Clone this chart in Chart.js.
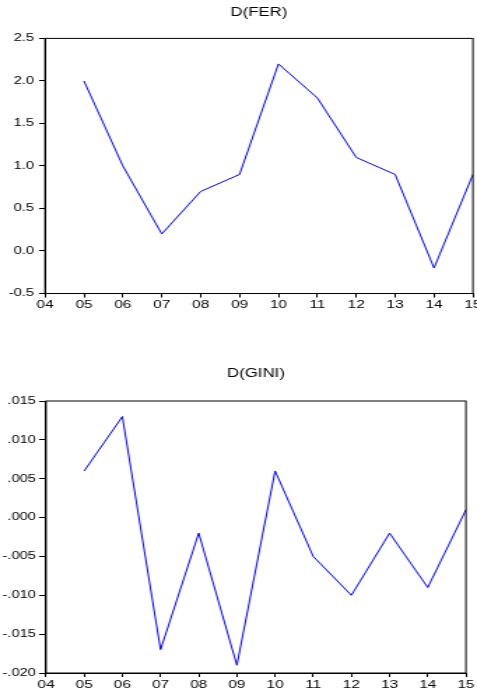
<!DOCTYPE html>
<html>
<head>
<meta charset="utf-8">
<script src="https://cdn.jsdelivr.net/npm/chart.js@4/dist/chart.umd.min.js"></script>
<style>
  html, body { margin: 0; padding: 0; background: #fff; overflow: hidden; }
  /* the original picture is stretched sideways, so each chart is drawn narrow and scaled in x */
  .box { position: absolute; left: 0; width: 341px; transform: scaleX(1.3988); transform-origin: 0 0; }
  #top { top: 0; height: 320px; }
  #bottom { top: 360px; height: 336px; }
</style>
</head>
<body>
<div class="box" id="top"><canvas id="chart-fer"></canvas></div>
<div class="box" id="bottom"><canvas id="chart-gini"></canvas></div>
<script>
// years shown on the x axis (04 has no value because of differencing)
const years = ['04', '05', '06', '07', '08', '09', '10', '11', '12', '13', '14', '15'];
const dFer = [null, 2.0, 1.0, 0.2, 0.7, 0.9, 2.2, 1.8, 1.1, 0.9, -0.2, 0.9];
const dGini = [null, 0.006, 0.013, -0.017, -0.002, -0.019, 0.006, -0.005, -0.010, -0.002, -0.009, 0.001];

Chart.defaults.font.family = 'Arial, "Liberation Sans", sans-serif';
Chart.defaults.color = '#000';

// draws the full box around the plot area
const moldura = {
  id: 'moldura',
  afterDraw(chart) {
    const { ctx, chartArea: a } = chart;
    ctx.save();
    ctx.strokeStyle = '#000';
    ctx.lineWidth = 1;
    ctx.strokeRect(a.left, a.top, a.right - a.left, a.bottom - a.top);
    ctx.restore();
  }
};

function criarGrafico(canvas, titulo, valores, yMin, yMax, passo, formato, opts) {
  return new Chart(canvas, {
    type: 'line',
    data: {
      labels: years,
      datasets: [{
        data: valores,
        borderColor: '#0000ff',
        borderWidth: 1,
        pointRadius: 0,
        tension: 0,
        fill: false
      }]
    },
    options: {
      responsive: true,
      maintainAspectRatio: false,
      animation: false,
      layout: { padding: { left: 0, right: opts.right, top: 0, bottom: opts.bottom } },
      plugins: {
        legend: { display: false },
        tooltip: { enabled: false },
        title: {
          display: true,
          fullSize: false,
          text: titulo,
          color: '#000',
          font: { size: 12, weight: 'normal' },
          padding: { top: opts.titleTop, bottom: opts.titleBottom }
        }
      },
      scales: {
        x: {
          offset: false,
          grid: { drawOnChartArea: false, tickLength: 4, color: '#000' },
          border: { color: '#000', width: 1 },
          ticks: { autoSkip: false, maxRotation: 0, padding: 1, color: '#000', font: { size: 11 } },
          afterFit(s) { s.height = 20; s.paddingLeft = 0; s.paddingRight = 0; }
        },
        y: {
          min: yMin,
          max: yMax,
          grid: { drawOnChartArea: false, tickLength: opts.tick, color: '#000' },
          border: { color: '#000', width: 1 },
          ticks: { stepSize: passo, padding: opts.pad, color: '#000', font: { size: 10.5 }, callback: formato },
          afterFit(s) { s.width = opts.yWidth; s.paddingTop = 0; s.paddingBottom = 0; }
        }
      }
    },
    plugins: [moldura]
  });
}

criarGrafico(document.getElementById('chart-fer'), 'D(FER)', dFer, -0.5, 2.5, 0.5,
  v => v.toFixed(1),
  { right: 2.9, bottom: 6.5, titleTop: 5, titleBottom: 19, yWidth: 32.2, tick: 4.3, pad: 3.6 });

criarGrafico(document.getElementById('chart-gini'), 'D(GINI)', dGini, -0.02, 0.015, 0.005,
  v => v.toFixed(3).replace('0.', '.'),
  { right: 7.9, bottom: 3, titleTop: 6, titleBottom: 20.6, yWidth: 32.9, tick: 5, pad: 2.2 });
</script>
</body>
</html>
